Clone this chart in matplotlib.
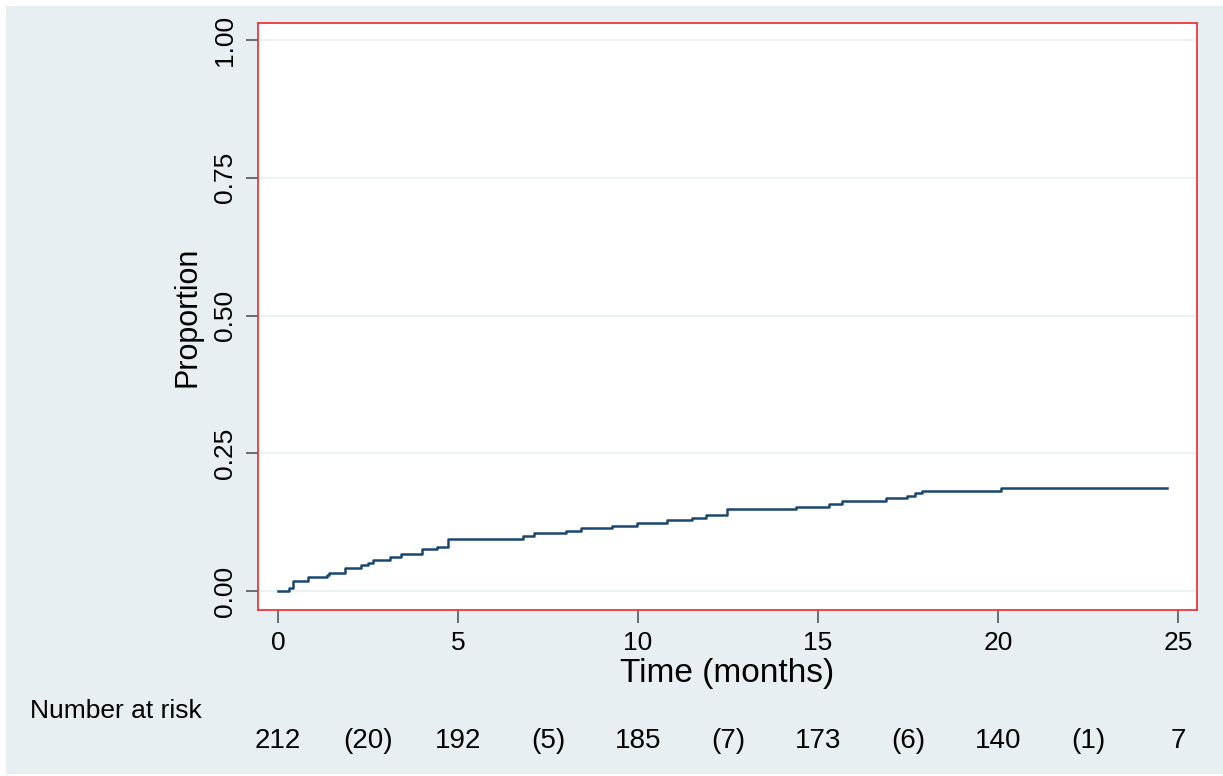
import matplotlib.pyplot as plt
from matplotlib.patches import Rectangle
from matplotlib.transforms import blended_transform_factory

# Kaplan-Meier style cumulative proportion
times = [0, 0.31, 0.41, 0.82, 1.36, 1.42, 1.87, 2.30, 2.49, 2.63, 3.12, 3.42,
         4.00, 4.42, 4.72, 6.81, 7.11, 8.00, 8.41, 9.29, 9.98, 10.80, 11.49,
         11.89, 12.48, 14.39, 15.30, 15.67, 16.89, 17.48, 17.69, 17.89, 20.09, 24.71]
proportion = [0, 0.005, 0.019, 0.025, 0.029, 0.033, 0.042, 0.047, 0.051, 0.057,
              0.062, 0.067, 0.076, 0.080, 0.095, 0.099, 0.105, 0.109, 0.114,
              0.118, 0.124, 0.129, 0.133, 0.138, 0.148, 0.153, 0.158, 0.163,
              0.168, 0.172, 0.177, 0.182, 0.187, 0.187]

x_ticks = [0, 5, 10, 15, 20, 25]
y_ticks = [0.00, 0.25, 0.50, 0.75, 1.00]
y_tick_labels = ["0.00", "0.25", "0.50", "0.75", "1.00"]

# Number at risk row: counts at 0,5,..,25 and events in between
risk_pos = [0, 2.5, 5, 7.5, 10, 12.5, 15, 17.5, 20, 22.5, 25]
risk_labels = ["212", "(20)", "192", "(5)", "185", "(7)", "173", "(6)", "140", "(1)", "7"]

BG = "#e8eff2"
NAVY = "#1a476f"
RED = "#e8383d"


def plot():
    plt.rcParams['font.family'] = ['Liberation Sans', 'DejaVu Sans']
    fig = plt.figure(figsize=(12.23, 7.76), dpi=100, facecolor="white")

    # Stata-like light background, with a thin white frame
    fig.patches.append(Rectangle((6 / 1223, 2 / 776), 1 - 6 / 1223, 1 - 8 / 776,
                                 transform=fig.transFigure, facecolor=BG,
                                 edgecolor="none", zorder=-10))

    ax = fig.add_axes([0.211, 0.2139, 0.7677, 0.7565])
    ax.set_facecolor("white")
    ax.plot(times, proportion, drawstyle="steps-post", color=NAVY, linewidth=1.8)

    ax.set_xlim(-0.557, 25.53)
    ax.set_ylim(-0.0345, 1.031)
    ax.set_xticks(x_ticks)
    ax.set_yticks(y_ticks)
    ax.set_yticklabels(y_tick_labels, rotation=90, va="center")
    ax.tick_params(axis="both", labelsize=19, color="#555555", length=9, width=1.2)
    ax.tick_params(axis="y", pad=6)
    ax.tick_params(axis="x", pad=6)
    ax.grid(axis="y", color="#eaf2f3", linewidth=1.5)
    ax.set_axisbelow(True)

    for side in ax.spines.values():
        side.set_color(RED)
        side.set_linewidth(1.3)

    ax.set_xlabel("Time (months)", fontsize=24, labelpad=2)
    ax.set_ylabel("Proportion", fontsize=22, labelpad=8)

    # Number at risk table below the axis
    fig.text(30 / 1223, 1 - 711 / 776, "Number at risk", fontsize=19, va="center", ha="left")
    trans = blended_transform_factory(ax.transData, fig.transFigure)
    for pos, lab in zip(risk_pos, risk_labels):
        ax.text(pos, 1 - 741 / 776, lab, transform=trans, fontsize=20,
                ha="center", va="center", clip_on=False)

    plt.savefig("out.png", dpi=100, facecolor=fig.get_facecolor())


def main():
    plot()


if __name__ == "__main__":
    main()
